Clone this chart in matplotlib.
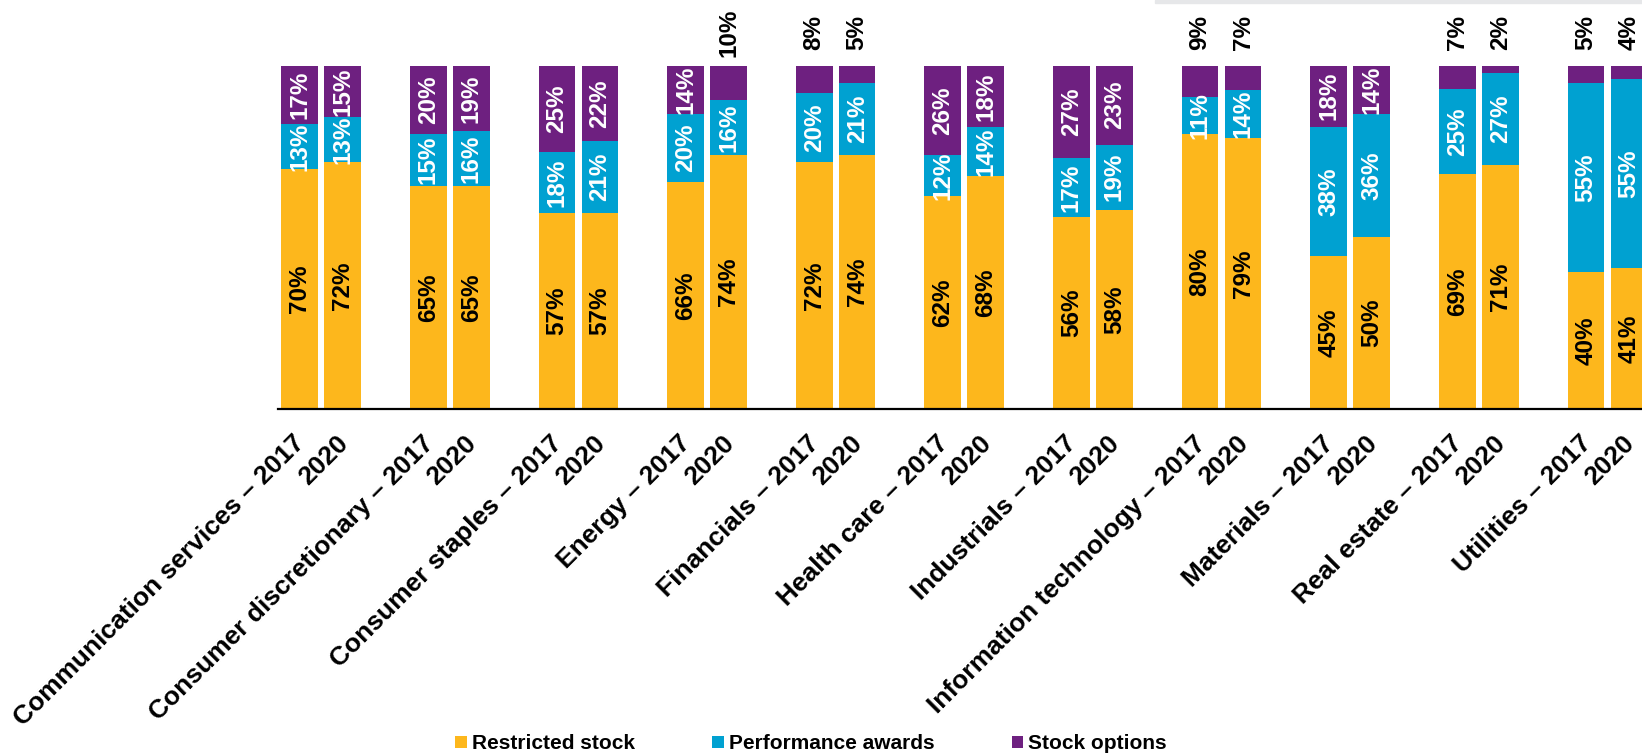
import matplotlib
matplotlib.use("Agg")
import matplotlib.pyplot as plt
import matplotlib.transforms as mtransforms
from matplotlib.patches import Patch, Rectangle
import numpy as np

plt.rcParams["font.family"] = ["Liberation Sans", "DejaVu Sans"]
plt.rcParams["font.weight"] = "bold"

YELLOW = "#FDB71C"
BLUE = "#00A1D1"
PURPLE = "#6E2080"

sectors = ["Communication services", "Consumer discretionary", "Consumer staples",
           "Energy", "Financials", "Health care", "Industrials",
           "Information technology", "Materials", "Real estate", "Utilities"]
years = ["2017", "2020"]
series_names = ["Restricted stock", "Performance awards", "Stock options"]

# share of long-term incentive mix (%), one list per vehicle and year
restricted_2017 = [70, 65, 57, 66, 72, 62, 56, 80, 45, 69, 40]
restricted_2020 = [72, 65, 57, 74, 74, 68, 58, 79, 50, 71, 41]
performance_2017 = [13, 15, 18, 20, 20, 12, 17, 11, 38, 25, 55]
performance_2020 = [13, 16, 21, 16, 21, 14, 19, 14, 36, 27, 55]
options_2017 = [17, 20, 25, 14, 8, 26, 27, 9, 18, 7, 5]
options_2020 = [15, 19, 22, 10, 5, 18, 23, 7, 14, 2, 4]

mix = {
    "2017": [restricted_2017, performance_2017, options_2017],
    "2020": [restricted_2020, performance_2020, options_2020],
}
colors = [YELLOW, BLUE, PURPLE]
text_colors = ["black", "white", "white"]

W, H = 1642, 754
fig = plt.figure(figsize=(W / 100, H / 100), dpi=100)
ax = fig.add_axes([278 / W, 1 - 409 / H, 1 - 278 / W, (409 - 65.7) / H])

bar_w = 0.285
offsets = {"2017": 0.0, "2020": 0.334}
base = np.arange(len(sectors))

for year in years:
    vals = np.array(mix[year], dtype=float)
    shares = vals / vals.sum(axis=0)
    x = base + offsets[year]
    bottom = np.zeros(len(sectors))
    for k in range(3):
        ax.bar(x, shares[k], bar_w, bottom=bottom, color=colors[k],
               edgecolor="none", zorder=2)
        for i in range(len(sectors)):
            v = vals[k][i]
            if k == 2 and v <= 10:
                # thin option slices get their label above the bar
                ax.text(x[i], 1.097, f"{v:.0f}%", rotation=90, ha="center",
                        va="center", fontsize=17.5, fontweight="bold",
                        color="black", clip_on=False)
            else:
                ax.text(x[i], bottom[i] + shares[k][i] / 2, f"{v:.0f}%",
                        rotation=90, ha="center", va="center", fontsize=17.5,
                        fontweight="bold", color=text_colors[k])
        bottom += shares[k]

ax.set_ylim(0, 1)
ax.set_xlim(-0.168, 10.435)

ticks = np.concatenate([base + offsets["2017"], base + offsets["2020"]])
labels = [f"{s} – 2017" for s in sectors] + ["2020"] * len(sectors)
order = np.argsort(ticks)
ax.set_xticks(ticks[order])
ax.set_xticklabels([labels[j] for j in order], rotation=45, ha="right",
                   va="top", rotation_mode="anchor", fontsize=19,
                   fontweight="bold")
ax.tick_params(axis="x", length=0, pad=16)
shift = mtransforms.ScaledTranslation(-5 / 72, 0, fig.dpi_scale_trans)
for lbl in ax.get_xticklabels():
    lbl.set_transform(lbl.get_transform() + shift)

ax.set_yticks([])
for side in ("top", "right", "left"):
    ax.spines[side].set_visible(False)
ax.spines["bottom"].set_linewidth(1.6)
ax.spines["bottom"].set_color("black")
ax.spines["bottom"].set_zorder(3)

handles = [Patch(facecolor=c, edgecolor="none") for c in colors]
fig.legend(handles, series_names, loc="center", bbox_to_anchor=(0.494, 0.0135),
           ncol=3, frameon=False, handlelength=0.55,
           handleheight=0.55, handletextpad=0.25, columnspacing=3.7,
           borderpad=0, prop={"weight": "bold", "size": 15})

# thin grey rule along the top right
fig.patches.append(Rectangle((1154.6 / W, 1 - 2.7 / H), 1, 2.7 / H,
                             transform=fig.transFigure, color="#E6E7E9"))

fig.savefig("out.png", dpi=100, facecolor="white")
